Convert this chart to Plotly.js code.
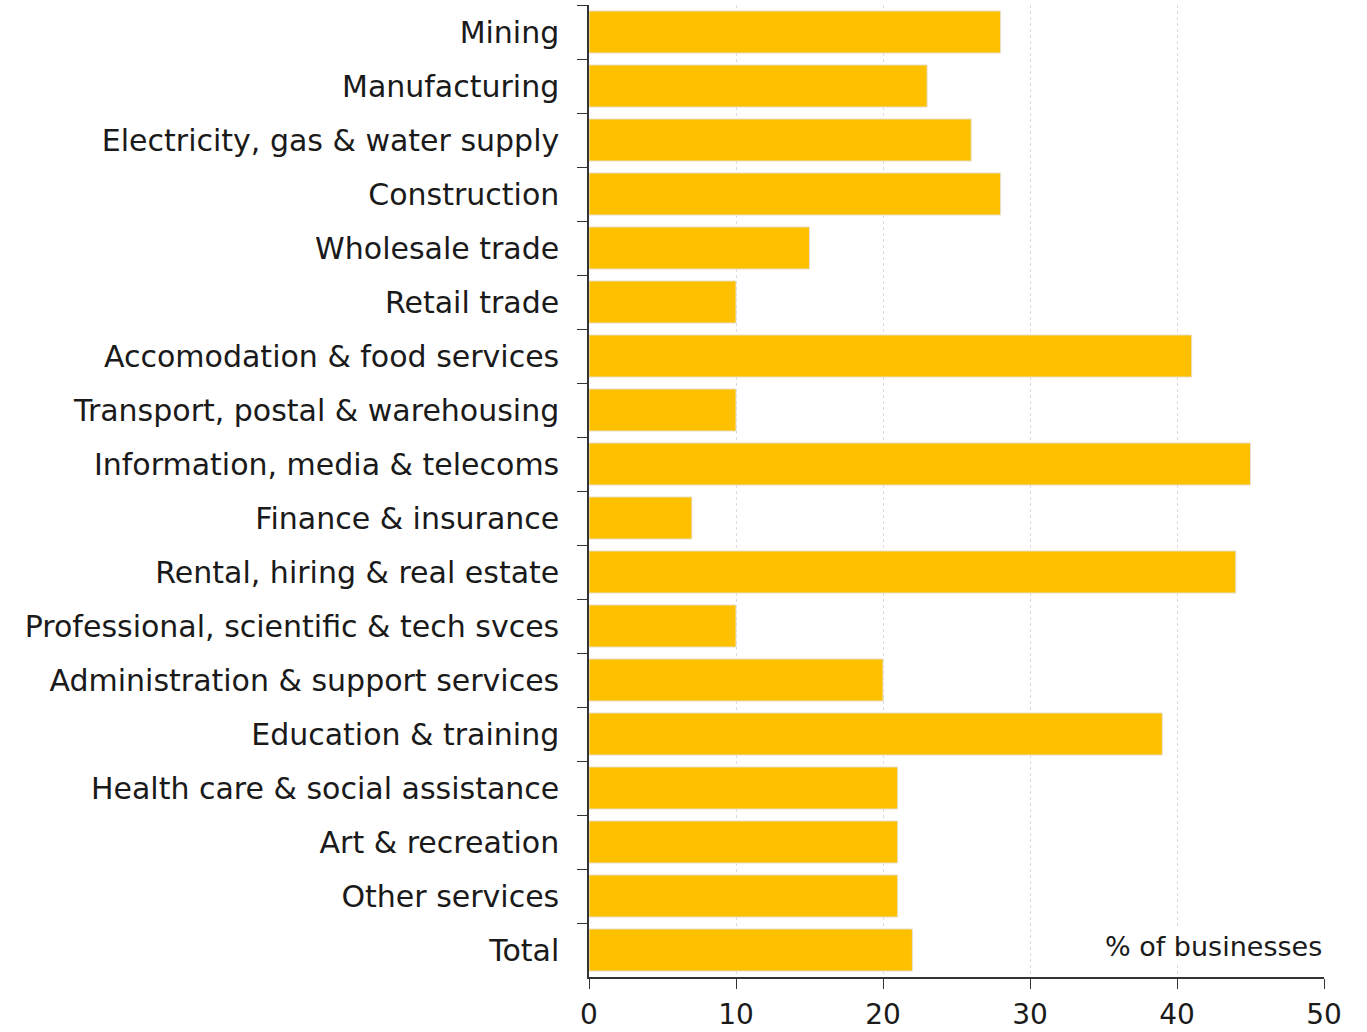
<!DOCTYPE html>
<html>
<head>
<meta charset="utf-8">
<script src="https://cdn.plot.ly/plotly-3.0.1.min.js"></script>
<style>html,body{margin:0;padding:0;background:#fff}#chart{width:1367px;height:1032px}</style>
</head>
<body>
<div id="chart"></div>
<script>
const industries = [
  "Mining",
  "Manufacturing",
  "Electricity, gas & water supply",
  "Construction",
  "Wholesale trade",
  "Retail trade",
  "Accomodation & food services",
  "Transport, postal & warehousing",
  "Information, media & telecoms",
  "Finance & insurance",
  "Rental, hiring & real estate",
  "Professional, scientific & tech svces",
  "Administration & support services",
  "Education & training",
  "Health care & social assistance",
  "Art & recreation",
  "Other services",
  "Total"
];
const shareOfBusinesses = [28, 23, 26, 28, 15, 10, 41, 10, 45, 7, 44, 10, 20, 39, 21, 21, 21, 22];
const xTickValues = [0, 10, 20, 30, 40, 50];
const unitLabel = "% of businesses";

const fontFamily = "DejaVu Sans, Lato, sans-serif";

Plotly.newPlot("chart", [{
  type: "bar",
  orientation: "h",
  y: industries,
  x: shareOfBusinesses,
  marker: {color: "#FFC000", line: {color: "#E6E0D0", width: 1}},
  width: 0.78,
  hoverinfo: "x+y"
}], {
  width: 1367,
  height: 1032,
  margin: {l: 589, r: 43, t: 5, b: 55},
  paper_bgcolor: "#fff",
  plot_bgcolor: "#fff",
  font: {family: fontFamily, size: 29, color: "#1a1a1a"},
  showlegend: false,
  xaxis: {
    range: [0, 50],
    tickvals: xTickValues,
    ticks: "outside",
    ticklen: 10,
    tickcolor: "#333",
    showline: true,
    linecolor: "#333",
    linewidth: 1.5,
    showgrid: true,
    gridcolor: "#dcdcdc",
    griddash: "dot",
    zeroline: false,
    ticklabelstandoff: 2,
    tickfont: {size: 28, family: fontFamily, color: "#1a1a1a"}
  },
  yaxis: {
    autorange: "reversed",
    ticks: "outside",
    tickson: "boundaries",
    ticklen: 10,
    tickcolor: "#333",
    showline: true,
    linecolor: "#333",
    linewidth: 1.5,
    showgrid: false,
    ticklabelstandoff: 22,
    tickfont: {size: 30, family: fontFamily, color: "#1a1a1a"}
  },
  annotations: [{
    text: unitLabel,
    xref: "paper", yref: "paper",
    x: 1, y: 0.031,
    xanchor: "right", yanchor: "middle",
    showarrow: false,
    bgcolor: "#fff",
    font: {size: 27, family: fontFamily, color: "#1a1a1a"}
  }]
}, {displayModeBar: false});
</script>
</body>
</html>
